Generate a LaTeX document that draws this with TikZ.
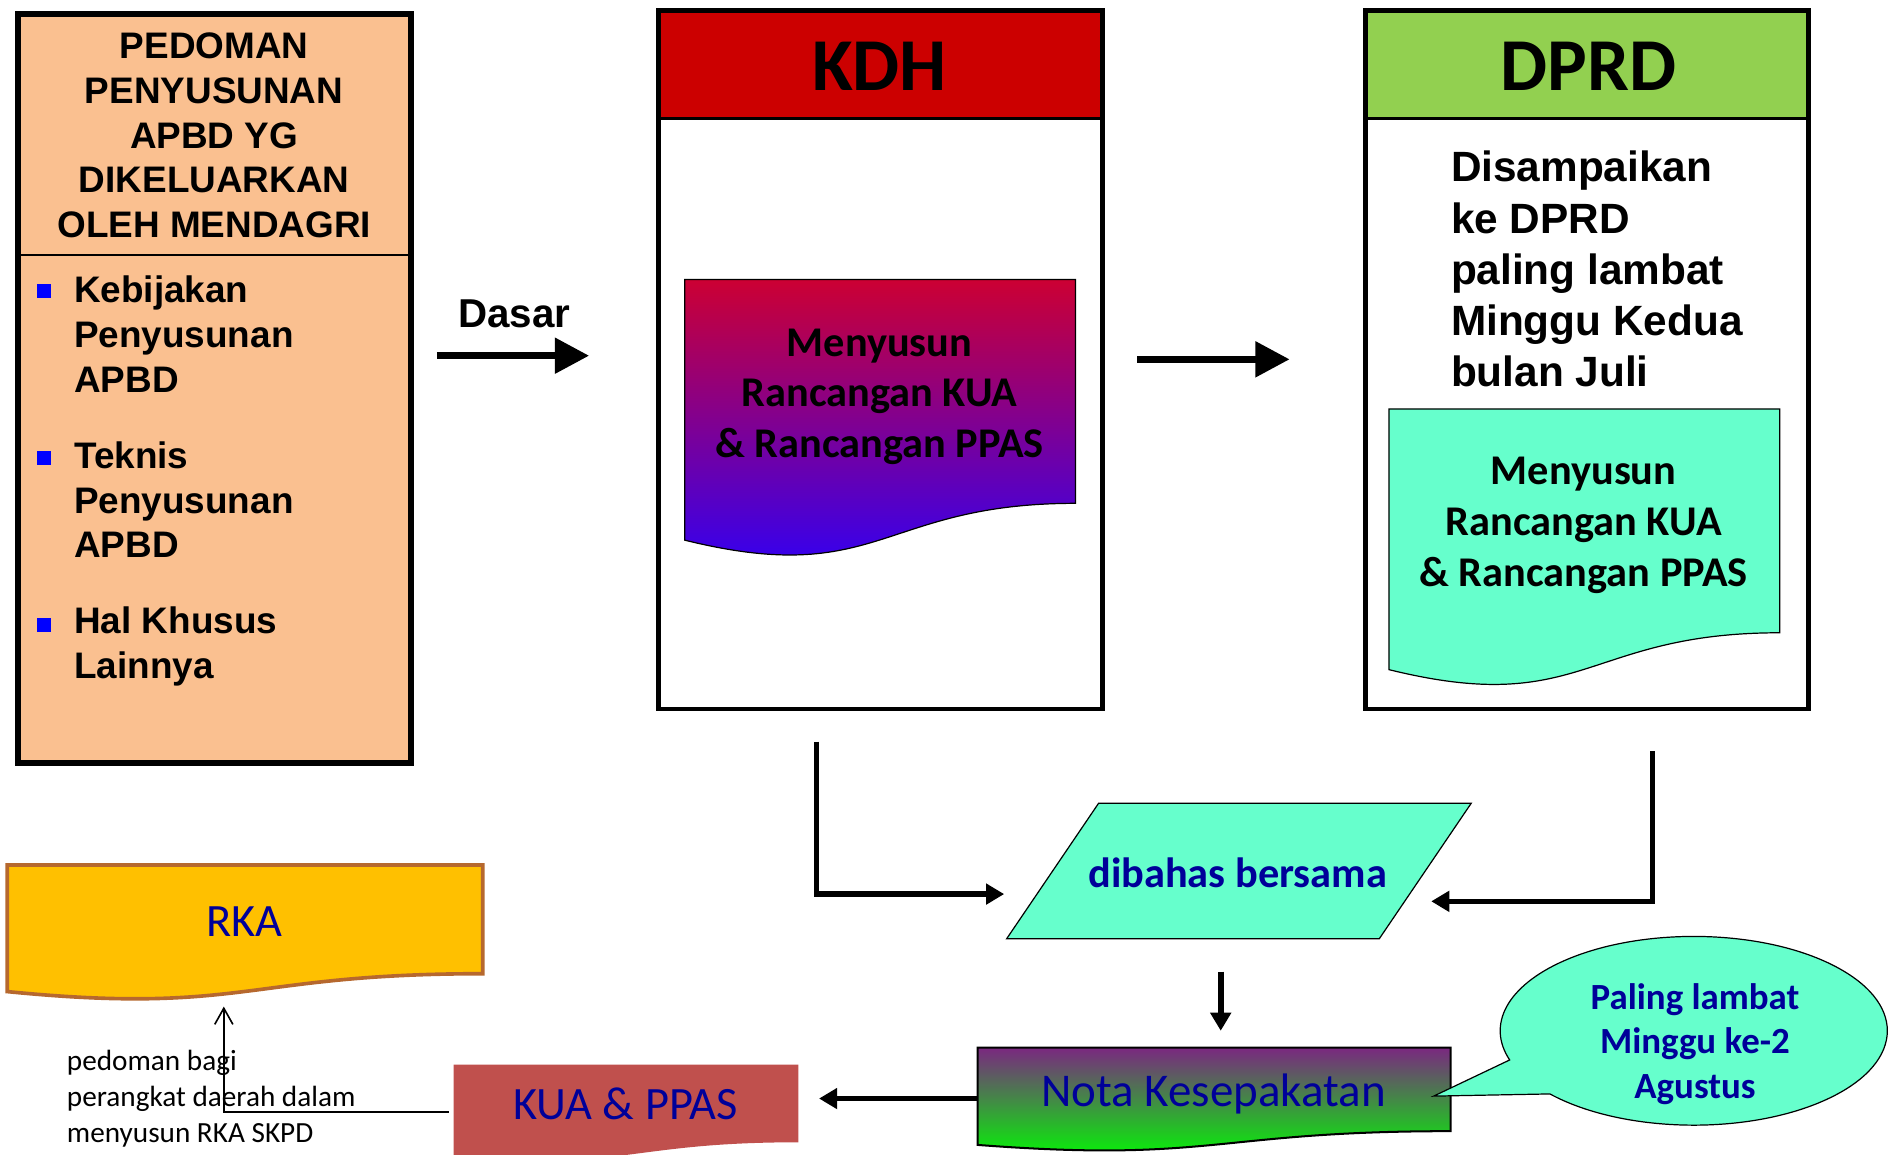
\documentclass[tikz,border=0pt]{standalone}
\usepackage{fontspec}
\setmainfont{Liberation Sans}
\newfontfamily\carlito{Carlito}
\usetikzlibrary{arrows.meta,calc}

\definecolor{peach}{RGB}{250,192,144}
\definecolor{kdhred}{RGB}{204,0,0}
\definecolor{dprdgreen}{RGB}{146,208,80}
\definecolor{aqua}{RGB}{102,255,204}
\definecolor{navy}{RGB}{0,0,153}
\definecolor{rkagold}{RGB}{255,192,0}
\definecolor{rkaedge}{RGB}{182,104,46}
\definecolor{kuared}{RGB}{192,80,77}
\definecolor{bulletblue}{RGB}{0,0,255}
\definecolor{docred}{RGB}{204,0,51}
\definecolor{docblue}{RGB}{40,0,255}
\definecolor{notapurple}{RGB}{122,40,128}
\definecolor{notamid}{RGB}{80,185,80}
\definecolor{notagreen}{RGB}{0,255,0}

% flowchart "document" outline: x-left, x-right, top, nominal height, style
\newcommand{\docshape}[5]{%
  \path[#5] (#1,#3) -- (#2,#3) -- (#2,{#3+0.802*#4})
    .. controls ({(#1+#2)/2},{#3+0.802*#4}) and ({(#1+#2)/2},{#3+1.107*#4})
    .. (#1,{#3+0.934*#4}) -- cycle;}

\begin{document}
\begin{tikzpicture}[x=0.6pt,y=-0.6pt,
  arial/.style={font=\bfseries\fontsize{18.3}{22.2}\selectfont},
  doctext/.style={font=\carlito\bfseries\fontsize{21}{25.2}\selectfont, align=center},
  bigarrow/.style={line width=3.6pt, -{Triangle[length=17pt,width=17pt]}},
  elbowarrow/.style={line width=2.6pt, -{Triangle[length=9pt,width=10pt]}},
  thinarrow/.style={line width=0.8pt, -{Straight Barb[length=8pt,width=9pt]}},
  headbar/.style={line width=1.2pt},
  frame/.style={line width=2.4pt}]

\useasboundingbox (0,0) rectangle (1568,954);

% ---------- guideline box ----------
\fill[peach] (14.5,11.5) rectangle (339.5,630.5);
\draw[headbar] (14.5,211) -- (339.5,211);
\draw[line width=3pt] (14.5,11.5) rectangle (339.5,630.5);
\node[arial, align=center] (pedoman) at (177,112)
  {PEDOMAN\\PENYUSUNAN\\APBD YG\\DIKELUARKAN\\OLEH MENDAGRI};
\foreach \y in {240.5,378.5,516.5}
  \fill[bulletblue] (30.5,\y-6) rectangle (42.5,\y+6);
\node[arial, align=left, anchor=west, inner sep=0] (item1) at (61,276)
  {Kebijakan\\Penyusunan\\APBD};
\node[arial, align=left, anchor=west, inner sep=0] (item2) at (61,413)
  {Teknis\\Penyusunan\\APBD};
\node[arial, align=left, anchor=west, inner sep=0] (item3) at (61,534.5)
  {Hal Khusus\\Lainnya};

% ---------- Dasar arrow ----------
\node[font=\bfseries\fontsize{20}{24}\selectfont] (dasar) at (425,259) {Dasar};
\coordinate (dasarA) at (361,294);
\coordinate (dasarB) at (487,294);
\draw[bigarrow] (dasarA) -- (dasarB);

% ---------- KDH column ----------
\fill[white] (544,9) rectangle (911,586);
\fill[kdhred] (544,9) rectangle (911,98);
\draw[headbar] (544,98) -- (911,98);
\draw[frame] (544,9) rectangle (911,586);
\node[font=\carlito\bfseries\fontsize{37}{44}\selectfont] (kdh) at (727,55) {KDH};
\docshape{566}{889}{231}{230.7}{draw=black, line width=0.6pt, top color=docred, bottom color=docblue}
\node[doctext] (kdhdoc) at (727,328) {Menyusun\\Rancangan KUA\\\& Rancangan PPAS};

% ---------- arrow KDH -> DPRD ----------
\coordinate (midA) at (940,297);
\coordinate (midB) at (1066,297);
\draw[bigarrow] (midA) -- (midB);

% ---------- DPRD column ----------
\fill[white] (1129,9) rectangle (1495,586);
\fill[dprdgreen] (1129,9) rectangle (1495,98);
\draw[headbar] (1129,98) -- (1495,98);
\draw[frame] (1129,9) rectangle (1495,586);
\node[font=\carlito\bfseries\fontsize{37}{44}\selectfont] (dprd) at (1313,55) {DPRD};
\node[font=\bfseries\fontsize{21}{25.4}\selectfont, align=left, anchor=west, inner sep=0]
  (dprdtext) at (1199,222.5)
  {Disampaikan\\ke DPRD\\paling lambat\\Minggu Kedua\\bulan Juli};
\docshape{1148}{1471}{338}{230.7}{draw=black, line width=0.6pt, fill=aqua}
\node[doctext] (dprddoc) at (1309,434) {Menyusun\\Rancangan KUA\\\& Rancangan PPAS};

% ---------- joint discussion ----------
\path[draw=black, line width=0.6pt, fill=aqua]
  (908,664) -- (1216,664) -- (1140,776) -- (832,776) -- cycle;
\node[font=\carlito\bfseries\fontsize{21}{25}\selectfont, text=navy] (bahas) at (1023,721)
  {dibahas bersama};

\coordinate (kdhout) at (675,613);
\coordinate (bahasin1) at (830,739);
\draw[elbowarrow] (kdhout) |- (bahasin1);
\coordinate (dprdout) at (1366,621);
\coordinate (bahasin2) at (1183,745);
\draw[elbowarrow] (dprdout) |- (bahasin2);

\coordinate (bahasout) at (1009,803);
\coordinate (notain) at (1009,852);
\draw[elbowarrow, line width=2.8pt] (bahasout) -- (notain);

% ---------- Nota Kesepakatan ----------
\docshape{808}{1199}{866}{86}{draw=black, line width=1pt, top color=notapurple, middle color=notamid, bottom color=notagreen}
\node[font=\carlito\fontsize{23.3}{28}\selectfont, text=navy] (nota) at (1003,904)
  {Nota Kesepakatan};

% ---------- deadline callout ----------
\path[draw=black, line width=0.6pt, fill=aqua]
  ($(1400,852)+(162:160 and 78)$) -- (1185,906) -- ($(1400,852)+(138:160 and 78)$)
  arc[start angle=138, end angle=-198, x radius=160, y radius=78] -- cycle;
\node[font=\carlito\bfseries\fontsize{18.3}{22.2}\selectfont, text=navy, align=center]
  (batas) at (1401,863) {Paling lambat\\Minggu ke-2\\Agustus};

% ---------- KUA & PPAS ----------
\docshape{375}{660}{880}{80}{fill=kuared}
\node[font=\carlito\fontsize{23}{28}\selectfont, text=navy] (kua) at (517,912) {KUA \& PPAS};
\coordinate (notaout) at (808,908);
\coordinate (kuain) at (677,908);
\draw[elbowarrow] (notaout) -- (kuain);

% ---------- RKA ----------
\docshape{6}{399}{715}{112}{draw=rkaedge, line width=1.8pt, fill=rkagold}
\node[font=\carlito\fontsize{23}{28}\selectfont, text=navy] (rka) at (202,762) {RKA};

\node[font=\carlito\fontsize{14.5}{17.7}\selectfont, align=left, anchor=west, inner sep=0]
  (catatan) at (55,908) {pedoman bagi\\perangkat daerah dalam\\menyusun RKA SKPD};
\coordinate (kuaout) at (371,919);
\coordinate (rkain) at (185,832);
\draw[thinarrow] (kuaout) -| (rkain);

\end{tikzpicture}
\end{document}
